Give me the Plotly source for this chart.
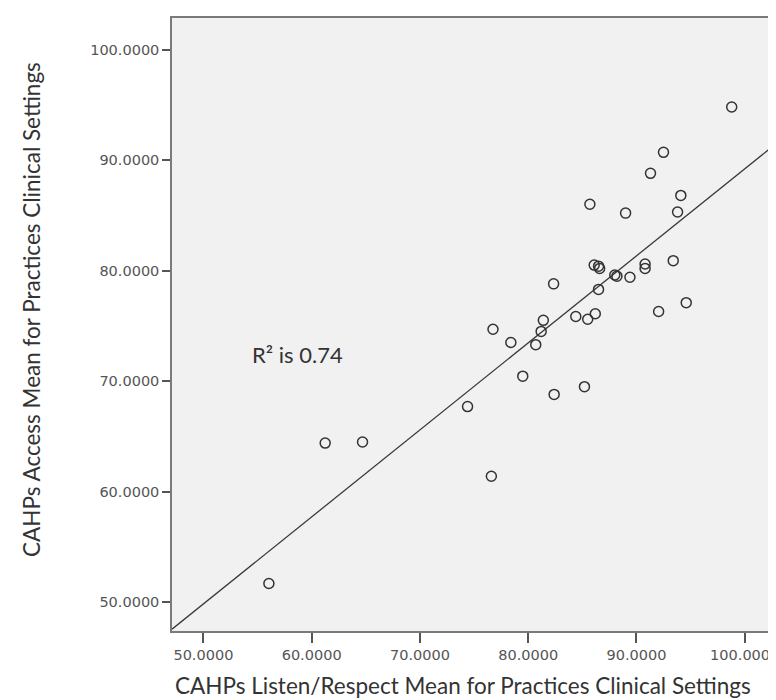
import plotly.graph_objects as go

# Data
listen_respect = [98.8, 92.5, 91.3, 94.1, 85.7, 89.0, 93.8, 86.1, 86.5, 86.6,
                  88.0, 88.2, 89.4, 90.8, 90.8, 93.4, 82.35, 86.5, 94.6, 92.05,
                  86.2, 84.4, 85.5, 81.4, 81.2, 76.75, 78.4, 80.7, 79.5, 85.2,
                  82.4, 74.4, 61.25, 64.7, 76.6, 56.05]
access = [94.8, 90.7, 88.8, 86.8, 86.0, 85.2, 85.3, 80.5, 80.4, 80.2,
          79.6, 79.5, 79.4, 80.6, 80.2, 80.9, 78.8, 78.3, 77.1, 76.3,
          76.1, 75.85, 75.6, 75.5, 74.5, 74.7, 73.5, 73.3, 70.45, 69.5,
          68.8, 67.7, 64.4, 64.5, 61.4, 51.7]

fit_intercept = 10.5
fit_slope = 0.787
r_squared_label = "R² is 0.74"

x_range = [47.1, 102.8]
y_range = [47.4, 102.85]
tick_values = [50, 60, 70, 80, 90, 100]

x_title = "CAHPs Listen/Respect Mean for Practices Clinical Settings"
y_title = "CAHPs Access Mean for Practices Clinical Settings"

fig = go.Figure()

fig.add_trace(go.Scatter(
    x=x_range,
    y=[fit_intercept + fit_slope * v for v in x_range],
    mode="lines",
    line=dict(color="#3a3a3a", width=1.3),
    hoverinfo="skip",
    showlegend=False,
))

fig.add_trace(go.Scatter(
    x=listen_respect, y=access,
    mode="markers",
    marker=dict(symbol="circle-open", size=10, color="#333333",
                line=dict(width=1.5, color="#333333")),
    showlegend=False,
))

fig.add_annotation(
    x=54.3, y=72.44, xref="x", yref="y",
    text=r_squared_label, showarrow=False, xanchor="left", yanchor="middle",
    font=dict(family="Lato", size=22, color="#333333"),
)

fig.add_annotation(
    x=0.4827, y=0.0, xref="paper", yref="paper",
    yshift=-54,
    text=x_title, showarrow=False, xanchor="center", yanchor="middle",
    font=dict(family="Lato", size=22.5, color="#333333"),
)
fig.add_annotation(
    x=0, y=0.5237, xref="paper", yref="paper",
    xshift=-140,
    text=y_title, showarrow=False, textangle=-90, xanchor="center", yanchor="middle",
    font=dict(family="Lato", size=22.5, color="#333333"),
)

axis_common = dict(
    tickvals=tick_values,
    tickformat=".4f",
    ticks="outside",
    tickcolor="#555555",
    tickwidth=1.5,
    showgrid=False,
    zeroline=False,
    showline=True,
    linecolor="#7a7a7a",
    linewidth=1.5,
    mirror=True,
    tickfont=dict(family="DejaVu Sans", size=14.5, color="#555555"),
)

fig.update_xaxes(range=x_range, ticklen=10, **axis_common)
fig.update_yaxes(range=y_range, ticklen=8, **axis_common)

fig.update_layout(
    width=776, height=700,
    margin=dict(l=164, r=5, t=10, b=77),
    paper_bgcolor="white",
    plot_bgcolor="#f1f1f1",
)

fig.write_html("out.html")
